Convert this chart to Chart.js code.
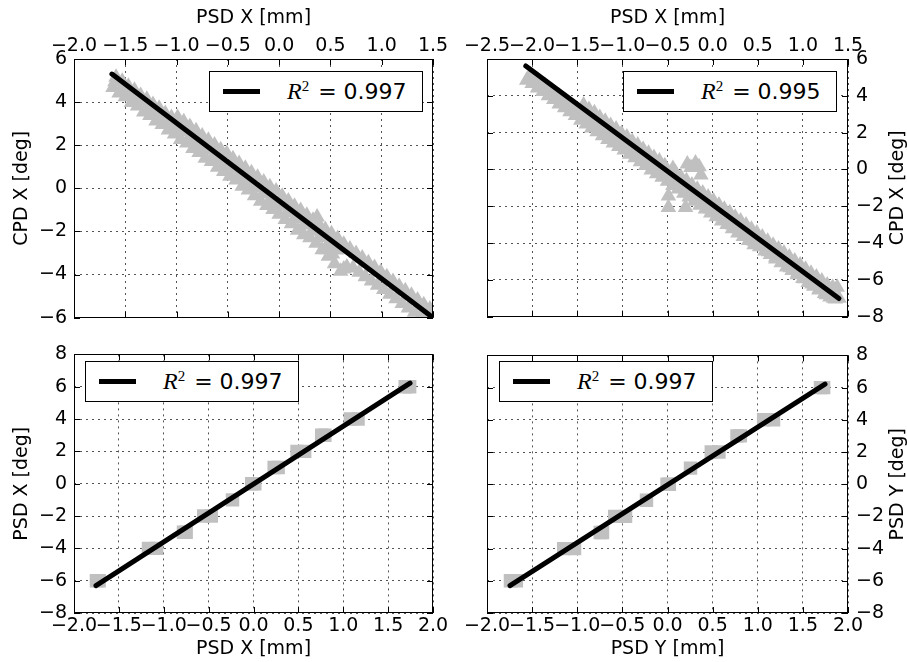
<!DOCTYPE html>
<html lang="en">
<head>
<meta charset="UTF-8" />
<title>PSD / CPD calibration</title>
<script src="https://cdn.jsdelivr.net/npm/chart.js"></script>
<style>
  body { margin: 0; background: #fff; width: 907px; height: 662px; position: relative; overflow: hidden; font-family: 'DejaVu Sans', sans-serif; }
  canvas.panel { position: absolute; }
  .legend { position: absolute; box-sizing: border-box; width: 214px; height: 41px; border: 1px solid #000; background: #fff; display: flex; align-items: center; font-size: 22px; color: #000; white-space: nowrap; }
  .legend .sample { display: inline-block; width: 37px; height: 5px; background: #000; margin-left: 13px; margin-right: 27px; }
  .legend i { font-family: 'Liberation Serif', 'DejaVu Serif', serif; font-size: 24px; }
  .legend sup { font-family: 'Liberation Serif', serif; font-size: 15px; margin-right: 2px; }
</style>
</head>
<body>
  <canvas id="c1" class="panel" width="460" height="336" style="left:0;top:0"></canvas>
  <canvas id="c2" class="panel" width="447" height="336" style="left:460px;top:0"></canvas>
  <canvas id="c3" class="panel" width="460" height="326" style="left:0;top:336px"></canvas>
  <canvas id="c4" class="panel" width="447" height="326" style="left:460px;top:336px"></canvas>

  <div class="legend" id="lg1" style="left:209px;top:71px"></div>
  <div class="legend" id="lg2" style="left:623px;top:71px"></div>
  <div class="legend" id="lg3" style="left:85px;top:361px"></div>
  <div class="legend" id="lg4" style="left:499px;top:361px"></div>

  <script>
    // top left: CPD X vs PSD X, triangles (lower edge, middle, upper edge, strays)
    const tlLowX = [-1.62, -1.56, -1.50, -1.44, -1.38, -1.32, -1.26, -1.20, -1.14, -1.08, -1.02, -0.96, -0.90, -0.84, -0.78, -0.72,
      -0.66, -0.60, -0.54, -0.48, -0.42, -0.36, -0.30, -0.24, -0.18, -0.12, -0.06, 0.00, 0.06, 0.12, 0.18, 0.24, 0.30, 0.36,
      0.42, 0.48, 0.54, 0.60, 0.66, 0.72, 0.78, 0.84, 0.90, 0.96, 1.02, 1.08, 1.14, 1.20, 1.26, 1.32, 1.38, 1.44, 1.49];
    const tlLowY = [4.68, 4.42, 4.25, 3.98, 3.82, 3.54, 3.38, 3.12, 2.96, 2.70, 2.52, 2.26, 2.10, 1.85, 1.66, 1.40,
      1.24, 0.98, 0.78, 0.56, 0.38, 0.10, -0.08, -0.35, -0.60, -0.80, -0.98, -1.20, -1.45, -1.65, -1.95, -2.15, -2.30, -2.55,
      -2.85, -3.15, -3.50, -3.85, -3.65, -3.70, -3.90, -4.10, -4.30, -4.50, -4.70, -4.92, -5.12, -5.35, -5.55, -5.75, -5.95, -6.15, -6.30];
    const tlMidX = [-1.60, -1.52, -1.44, -1.36, -1.28, -1.20, -1.12, -1.04, -0.96, -0.88, -0.80, -0.72, -0.64, -0.56,
      -0.48, -0.40, -0.32, -0.24, -0.16, -0.08, 0.00, 0.08, 0.16, 0.24, 0.32, 0.40, 0.48, 0.56];
    const tlMidY = [4.94, 4.65, 4.36, 4.08, 3.79, 3.50, 3.21, 2.92, 2.63, 2.34, 2.05, 1.76, 1.48, 1.19,
      0.90, 0.61, 0.32, 0.03, -0.26, -0.55, -0.83, -1.12, -1.41, -1.70, -1.99, -2.28, -2.57, -2.86];
    const tlUpX = [-1.59, -1.53, -1.47, -1.41, -1.35, -1.29, -1.23, -1.17, -1.11, -1.05, -0.99, -0.93, -0.87, -0.81, -0.75, -0.69, -0.63,
      -0.57, -0.51, -0.45, -0.39, -0.33, -0.27, -0.21, -0.15, -0.09, -0.03, 0.03, 0.09, 0.15, 0.21, 0.27, 0.33, 0.39, 0.45,
      0.51, 0.57, 0.63, 0.69, 0.75, 0.81, 0.87, 0.93, 0.99, 1.05, 1.11, 1.17, 1.23, 1.29, 1.35, 1.41, 1.47];
    const tlUpY = [5.15, 4.97, 4.73, 4.55, 4.31, 4.13, 3.89, 3.71, 3.47, 3.29, 3.29, 3.09, 2.87, 2.67, 2.43, 2.23, 2.01,
      1.79, 1.61, 1.37, 1.15, 0.93, 0.72, 0.51, 0.29, 0.07, -0.13, -0.37, -0.59, -0.83, -1.03, -1.25, -1.48, -1.69, -1.91,
      -2.11, -2.33, -2.60, -2.82, -3.02, -3.24, -3.46, -3.68, -3.88, -4.10, -4.32, -4.54, -4.75, -4.96, -5.18, -5.40, -5.60];
    const tlStrayX = [0.37, 0.52, 0.63, 0.46];
    const tlStrayY = [-1.33, -3.05, -3.75, -2.85];
    const tlFitX = [-1.63, 1.49];
    const tlFitY = [5.30, -5.97];

    // top right: CPD X vs PSD X, second run
    const trLowX = [-2.06, -2.00, -1.94, -1.88, -1.82, -1.76, -1.70, -1.64, -1.58, -1.52, -1.46, -1.40, -1.34, -1.28, -1.22, -1.16,
      -1.10, -1.04, -0.98, -0.92, -0.86, -0.80, -0.74, -0.68, -0.62, -0.56, -0.50, -0.44, -0.38, -0.32, -0.26, -0.20, -0.14,
      -0.08, -0.02, 0.04, 0.10, 0.16, 0.22, 0.28, 0.34, 0.40, 0.46, 0.52, 0.58, 0.64, 0.70, 0.76, 0.82, 0.88, 0.94, 1.00,
      1.06, 1.12, 1.18, 1.24, 1.30, 1.36, 1.40];
    const trLowY = [4.85, 4.67, 4.43, 4.23, 4.00, 3.80, 3.55, 3.35, 3.13, 2.93, 2.67, 2.47, 2.25, 2.05, 1.83, 1.63,
      1.43, 1.25, 1.05, 0.83, 0.63, 0.41, 0.21, -0.03, -0.23, -0.43, -0.65, -0.87, -1.07, -1.30, -1.50, -1.73, -1.95,
      -2.15, -2.37, -2.57, -2.80, -3.00, -3.23, -3.45, -3.65, -3.87, -4.10, -4.20, -4.43, -4.63, -4.87, -5.07, -5.30, -5.50, -5.73, -5.93,
      -6.15, -6.35, -6.55, -6.75, -6.93, -7.05, -7.00];
    const trMidX = [-2.02, -1.94, -1.86, -1.78, -1.70, -1.62, -1.54, -1.46, -1.38, -1.30, -1.22, -1.14, -1.06, -0.98, -0.90,
      -0.82, -0.74, -0.66, -0.58, -0.42, -0.34, -0.26, -0.18, -0.10, -0.02, 0.06, 0.14, 0.22, 0.30, 0.38, 0.46, 0.54, 0.62,
      0.70, 0.78, 0.86, 0.94, 1.02, 1.10, 1.18, 1.26, 1.34];
    const trMidY = [5.14, 4.85, 4.56, 4.26, 3.97, 3.68, 3.39, 3.10, 2.81, 2.51, 2.22, 1.93, 1.64, 1.35, 1.06,
      0.77, 0.47, 0.18, -0.11, -0.69, -0.98, -1.27, -1.57, -1.86, -2.15, -2.44, -2.73, -3.02, -3.31, -3.61, -3.90, -4.19, -4.48,
      -4.77, -5.06, -5.35, -5.65, -5.94, -6.23, -6.52, -6.81, -7.00];
    const trUpX = [-1.43, -1.37, -1.31, -1.25, -1.19, -1.13, -1.07, -1.01, -0.95, -0.89, -0.83, -0.77, -0.71, -0.65, -0.59, -0.53,
      -0.41, -0.35, -0.29, -0.23, -0.17, -0.11, -0.05, 0.01, 0.07, 0.13, 0.19, 0.25, 0.31, 0.37, 0.43, 0.49, 0.55, 0.61,
      0.67, 0.73, 0.79, 0.85, 0.91, 0.97, 1.03, 1.09, 1.15, 1.21, 1.27, 1.33, 1.38];
    const trUpY = [3.50, 3.25, 3.08, 2.82, 2.62, 2.38, 2.20, 1.95, 1.76, 1.52, 1.32, 1.08, 0.88, 0.65, 0.45, 0.20,
      -0.20, -0.42, -0.62, -0.85, -1.08, -1.28, -1.50, -1.72, -1.94, -2.16, -2.36, -2.60, -2.80, -3.02, -3.25, -3.46, -3.68, -3.90,
      -4.12, -4.32, -4.55, -4.76, -4.98, -5.20, -5.42, -5.64, -5.85, -6.06, -6.28, -6.42, -6.40];
    const trStrayX = [-0.49, -0.49, -0.30, -0.28, -0.24, -0.19, -0.15, -0.13, -0.50, -0.44];
    const trStrayY = [-1.45, -2.07, -2.07, 0.30, 0.10, 0.35, 0.15, -0.30, -0.39, 0.05];
    const trFitX = [-2.07, 1.40];
    const trFitY = [5.62, -7.02];

    // bottom left: PSD X [deg] vs PSD X [mm] (squares + fit)
    const blX = [-1.75, -1.72, -1.17, -1.08, -0.78, -0.75, -0.555, -0.47, -0.234, -0.02, 0.015, 0.23, 0.275, 0.485, 0.57, 0.76, 0.795, 1.08, 1.165, 1.69, 1.74];
    const blY = [-6, -6, -4, -4, -3, -3, -2, -2, -1, 0, 0, 1, 1, 2, 2, 3, 3, 4, 4, 6, 6];
    const blFitX = [-1.755, 1.744];
    const blFitY = [-6.30, 6.22];

    // bottom right: PSD Y [deg] vs PSD Y [mm]
    const brX = [-1.74, -1.675, -1.15, -1.03, -0.745, -0.72, -0.585, -0.465, -0.233, -0.005, 0.02, 0.255, 0.485, 0.57, 0.77, 0.807, 1.065, 1.175, 1.695, 1.73];
    const brY = [-6, -6, -4, -4, -3, -3, -2, -2, -1, 0, 0, 1, 2, 2, 3, 3, 4, 4, 6, 6];
    const brFitX = [-1.745, 1.745];
    const brFitY = [-6.30, 6.22];

    const r2Values = [0.997, 0.995, 0.997, 0.997];

    // tick labels
    const xTicksTL = [-2.0, -1.5, -1.0, -0.5, 0.0, 0.5, 1.0, 1.5];
    const xTicksTR = [-2.5, -2.0, -1.5, -1.0, -0.5, 0.0, 0.5, 1.0, 1.5];
    const xTicksBottom = [-2.0, -1.5, -1.0, -0.5, 0.0, 0.5, 1.0, 1.5, 2.0];
    const yTicksTL = [-6, -4, -2, 0, 2, 4, 6];
    const yTicksTR = [-8, -6, -4, -2, 0, 2, 4, 6];
    const yTicksBottom = [-8, -6, -4, -2, 0, 2, 4, 6, 8];

    const GRAY = '#c0c0c0';
    const tickFont = { family: "'DejaVu Sans', sans-serif", size: 19 };

    function pairs(xs, ys) { return xs.map((x, i) => ({ x: x, y: ys[i] })); }
    function fmt(v, digits) { return v.toFixed(digits).replace('-', '\u2212'); }

    // matplotlib-like box: frame, inward ticks on all sides, optional right-hand title
    const framePlugin = {
      id: 'frame',
      afterDraw(chart, args, opts) {
        const { ctx, chartArea: a, scales } = chart;
        ctx.save();
        ctx.strokeStyle = '#000';
        ctx.lineWidth = 1;
        ctx.beginPath();
        scales.x.ticks.forEach(t => {
          const px = Math.round(scales.x.getPixelForValue(t.value)) + 0.5;
          ctx.moveTo(px, a.top); ctx.lineTo(px, a.top + 6);
          ctx.moveTo(px, a.bottom); ctx.lineTo(px, a.bottom - 6);
        });
        scales.y.ticks.forEach(t => {
          const py = Math.round(scales.y.getPixelForValue(t.value)) + 0.5;
          ctx.moveTo(a.left, py); ctx.lineTo(a.left + 6, py);
          ctx.moveTo(a.right, py); ctx.lineTo(a.right - 6, py);
        });
        ctx.stroke();
        ctx.strokeRect(Math.round(a.left) + 0.5, Math.round(a.top) + 0.5, Math.round(a.width) - 1, Math.round(a.height) - 1);
        if (opts && opts.sideTitle) {
          ctx.translate(opts.sideX, (a.top + a.bottom) / 2);
          ctx.rotate(-Math.PI / 2);
          ctx.fillStyle = '#000';
          ctx.font = "19px 'DejaVu Sans', sans-serif";
          ctx.textAlign = 'center';
          ctx.textBaseline = 'middle';
          ctx.fillText(opts.sideTitle, 0, 0);
        }
        ctx.restore();
      }
    };

    function axisX(position, min, max, ticks, size, title) {
      return {
        type: 'linear', position: position, min: min, max: max,
        afterBuildTicks: s => { s.ticks = ticks.map(v => ({ value: v })); },
        afterFit: s => { s.height = size; },
        ticks: { autoSkip: false, maxRotation: 0, minRotation: 0, padding: 2, color: '#000', font: tickFont, callback: v => fmt(v, 1) },
        grid: { color: '#555', lineWidth: 1, drawTicks: false },
        border: { display: false, dash: [2, 4] },
        title: { display: true, text: title, color: '#000', font: tickFont,
                 padding: position === 'top' ? { top: 7 } : { bottom: 2 } }
      };
    }

    function axisY(position, min, max, ticks, size, title) {
      return {
        type: 'linear', position: position, min: min, max: max,
        afterBuildTicks: s => { s.ticks = ticks.map(v => ({ value: v })); },
        afterFit: s => { s.width = size; },
        ticks: { autoSkip: false, padding: position === 'left' ? 7 : 8, color: '#000', font: tickFont, callback: v => fmt(v, 0) },
        grid: { color: '#555', lineWidth: 1, drawTicks: false },
        border: { display: false, dash: [2, 4] },
        title: { display: position === 'left', text: title, color: '#000', font: tickFont, padding: { top: 11 } }
      };
    }

    function makeChart(id, pts, fit, marker, radius, xAxis, yAxis, padding, sideTitle) {
      return new Chart(document.getElementById(id), {
        type: 'scatter',
        data: {
          datasets: [
            { data: fit, showLine: true, borderColor: '#000', borderWidth: 5, borderCapStyle: 'round',
              pointRadius: 0, pointHoverRadius: 0, order: 0 },
            { data: pts, pointStyle: marker, pointRadius: radius, pointHoverRadius: radius,
              backgroundColor: GRAY, borderWidth: 0, order: 1 }
          ]
        },
        options: {
          responsive: false, animation: false, devicePixelRatio: 1,
          events: [],
          layout: { padding: padding },
          plugins: {
            legend: { display: false }, tooltip: { enabled: false },
            frame: sideTitle ? { sideTitle: sideTitle, sideX: 438 } : {}
          },
          scales: { x: xAxis, y: yAxis }
        },
        plugins: [framePlugin]
      });
    }

    const tlPts = pairs(tlLowX, tlLowY).concat(pairs(tlMidX, tlMidY), pairs(tlUpX, tlUpY), pairs(tlStrayX, tlStrayY));
    const trPts = pairs(trLowX, trLowY).concat(pairs(trMidX, trMidY), pairs(trUpX, trUpY), pairs(trStrayX, trStrayY));

    makeChart('c1', tlPts, pairs(tlFitX, tlFitY), 'triangle', 9,
      axisX('top', -2.0, 1.5, xTicksTL, 59, 'PSD X [mm]'),
      axisY('left', -6, 6, yTicksTL, 74, 'CPD X [deg]'),
      { left: 0, top: 0, right: 27, bottom: 14 }, null);

    makeChart('c2', trPts, pairs(trFitX, trFitY), 'triangle', 9,
      axisX('top', -2.5, 1.5, xTicksTR, 59, 'PSD X [mm]'),
      axisY('right', -8, 6, yTicksTR, 59, 'CPD X [deg]'),
      { left: 27, top: 0, right: 0, bottom: 14 }, 'CPD X [deg]');

    makeChart('c3', pairs(blX, blY), pairs(blFitX, blFitY), 'rect', 9.5,
      axisX('bottom', -2.0, 2.0, xTicksBottom, 49, 'PSD X [mm]'),
      axisY('left', -8, 8, yTicksBottom, 74, 'PSD X [deg]'),
      { left: 0, top: 13, right: 27, bottom: 0 }, null);

    makeChart('c4', pairs(brX, brY), pairs(brFitX, brFitY), 'rect', 9.5,
      axisX('bottom', -2.0, 2.0, xTicksBottom, 49, 'PSD Y [mm]'),
      axisY('right', -8, 8, yTicksBottom, 59, 'PSD Y [deg]'),
      { left: 27, top: 13, right: 0, bottom: 0 }, 'PSD Y [deg]');

    // legends
    r2Values.forEach((r2, i) => {
      const box = document.getElementById('lg' + (i + 1));
      box.innerHTML = '<span class="sample"></span><span><i>R</i><sup>2</sup> = ' + r2.toFixed(3) + '</span>';
    });
  </script>
</body>
</html>
